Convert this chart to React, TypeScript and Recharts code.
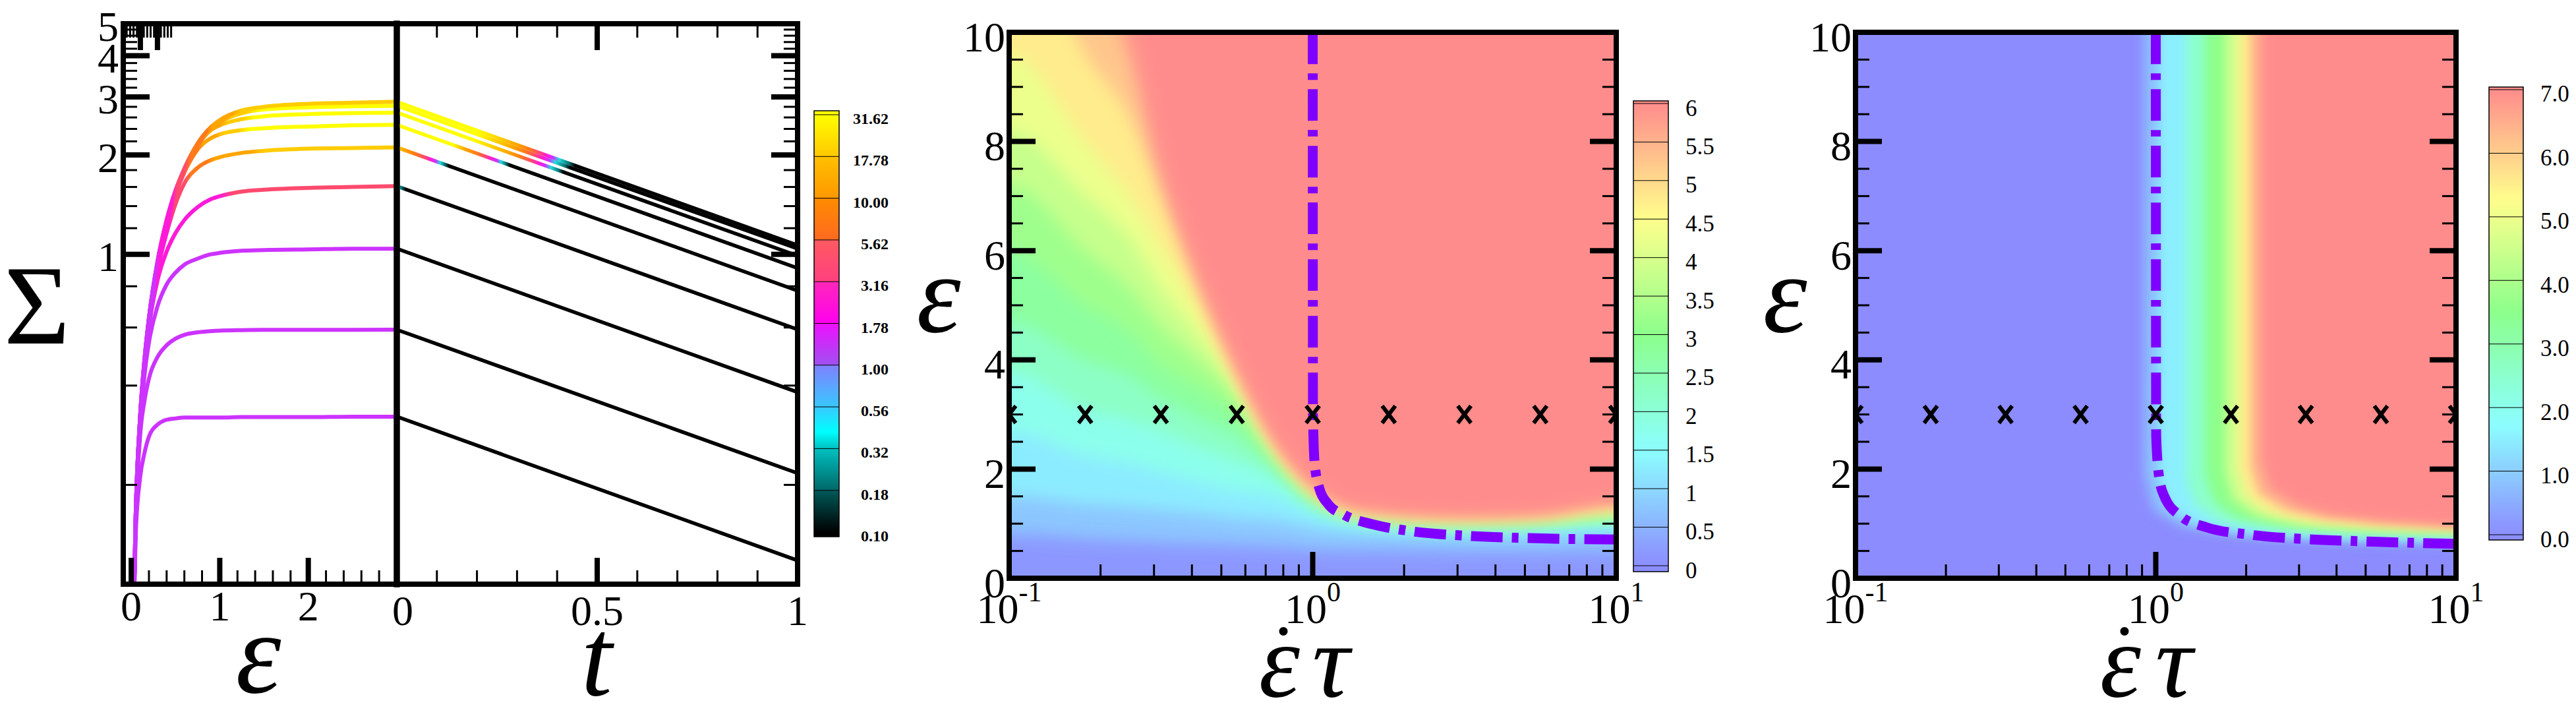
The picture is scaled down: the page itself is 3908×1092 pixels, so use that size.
import React from 'react';
import { ComposedChart, Line, Area, Scatter, XAxis, YAxis, CartesianGrid } from 'recharts';

const SERIF = "'Liberation Serif', 'DejaVu Serif', serif";

// ---------- left panel: loading at fixed rate, then relaxation ----------
const STRAIN = [0.02, 0.05, 0.1, 0.15, 0.2, 0.3, 0.4, 0.5, 0.6, 0.75, 0.9, 1.0, 1.25, 1.5, 2.0, 2.5, 3.0];
const RATE_KEYS = ['r01', 'r018', 'r032', 'r056', 'r1', 'r178', 'r316', 'r562', 'r10'];
const LOAD_R01 = [0.062, 0.14, 0.21, 0.25, 0.28, 0.305, 0.315, 0.318, 0.32, 0.32, 0.32, 0.32, 0.321, 0.321, 0.321, 0.322, 0.322];
const LOAD_R018 = [0.063, 0.15, 0.28, 0.36, 0.42, 0.49, 0.53, 0.555, 0.57, 0.58, 0.585, 0.587, 0.589, 0.59, 0.59, 0.59, 0.591];
const LOAD_R032 = [0.064, 0.155, 0.3, 0.43, 0.54, 0.7, 0.81, 0.88, 0.93, 0.97, 1.0, 1.01, 1.025, 1.03, 1.035, 1.04, 1.04];
const LOAD_R056 = [0.064, 0.16, 0.31, 0.46, 0.6, 0.84, 1.02, 1.16, 1.27, 1.39, 1.47, 1.5, 1.55, 1.57, 1.59, 1.6, 1.61];
const LOAD_R1 = [0.064, 0.16, 0.32, 0.47, 0.62, 0.9, 1.16, 1.42, 1.64, 1.83, 1.93, 1.97, 2.03, 2.06, 2.09, 2.1, 2.11];
const LOAD_R178 = [0.064, 0.16, 0.32, 0.48, 0.64, 0.95, 1.24, 1.52, 1.77, 2.08, 2.25, 2.31, 2.38, 2.41, 2.44, 2.46, 2.47];
const LOAD_R316 = [0.064, 0.16, 0.32, 0.48, 0.64, 0.96, 1.26, 1.55, 1.8, 2.14, 2.38, 2.46, 2.57, 2.62, 2.66, 2.68, 2.69];
const LOAD_R562 = [0.064, 0.16, 0.32, 0.48, 0.64, 0.96, 1.27, 1.56, 1.81, 2.16, 2.42, 2.52, 2.68, 2.75, 2.79, 2.81, 2.82];
const LOAD_R10 = [0.064, 0.16, 0.32, 0.48, 0.64, 0.96, 1.27, 1.56, 1.82, 2.17, 2.43, 2.55, 2.73, 2.8, 2.86, 2.88, 2.9];
const LOADS = [LOAD_R01, LOAD_R018, LOAD_R032, LOAD_R056, LOAD_R1, LOAD_R178, LOAD_R316, LOAD_R562, LOAD_R10];

const RELAX_T = [0, 1];
const RELAX_END = [0.118, 0.217, 0.382, 0.592, 0.776, 0.908, 0.99, 1.04, 1.066];

// rates probed in the maps (the x marks at strain 3)
const RATES = [0.1, 0.178, 0.316, 0.562, 1, 1.78, 3.16, 5.62, 10];
const MARK_STRAIN = 3;

// ---------- ticks and labels ----------
const STRAIN_TICKS = [0, 0.2, 0.4, 0.6, 0.8, 1, 1.2, 1.4, 1.6, 1.8, 2, 2.2, 2.4, 2.6, 2.8];
const STRAIN_MAJOR = [0, 1, 2];
const TIME_TICKS = [0, 0.1, 0.2, 0.3, 0.4, 0.5, 0.6, 0.7, 0.8, 0.9, 1];
const TIME_MAJOR = [0, 0.5, 1];
const SIGMA_TICKS = [0.2, 0.4, 0.6, 0.8, 1, 1.2, 1.4, 1.6, 1.8, 2, 2.2, 2.4, 2.6, 2.8, 3, 3.2, 3.4, 3.6, 3.8, 4, 4.2, 4.4, 4.6, 4.8, 5];
const SIGMA_MAJOR = [1, 2, 3, 4, 5];
const RATE_TICKS = [0.1, 0.2, 0.3, 0.4, 0.5, 0.6, 0.7, 0.8, 0.9, 1, 2, 3, 4, 5, 6, 7, 8, 9, 10];
const RATE_MAJOR = [0.1, 1, 10];
const RATE_EXP = ['-1', '0', '1'];
const EPS_TICKS = [0, 0.5, 1, 1.5, 2, 2.5, 3, 3.5, 4, 4.5, 5, 5.5, 6, 6.5, 7, 7.5, 8, 8.5, 9, 9.5, 10];
const EPS_MAJOR = [0, 2, 4, 6, 8, 10];
const CB1_LABELS = ['31.62', '17.78', '10.00', '5.62', '3.16', '1.78', '1.00', '0.56', '0.32', '0.18', '0.10'];
const CB2_LABELS = ['6', '5.5', '5', '4.5', '4', '3.5', '3', '2.5', '2', '1.5', '1', '0.5', '0'];
const CB3_LABELS = ['7.0', '6.0', '5.0', '4.0', '3.0', '2.0', '1.0', '0.0'];

// ---------- middle map: contour levels, strain where each level is crossed ----------
const P2_RATE = [0.05, 0.1, 0.178, 0.251, 0.316, 0.398, 0.562, 0.75, 1, 1.33, 1.78, 3.16, 5.62, 10, 20];
const P2_L05 = [0.8, 0.8, 0.72, 0.68, 0.65, 0.63, 0.6, 0.57, 0.52, 0.5, 0.5, 0.48, 0.48, 0.5, 0.5];
const P2_L10 = [1.5, 1.5, 1.35, 1.3, 1.25, 1.2, 1.1, 1.05, 0.92, 0.85, 0.82, 0.79, 0.8, 0.85, 0.85];
const P2_L15 = [2.7, 2.7, 2.25, 2.1, 1.95, 1.8, 1.6, 1.5, 1.2, 1.02, 0.95, 0.9, 0.93, 1.0, 1.0];
const P2_L20 = [3.8, 3.8, 3.1, 2.9, 2.7, 2.45, 2.15, 1.85, 1.35, 1.11, 1.02, 0.97, 1.0, 1.07, 1.07];
const P2_L25 = [4.7, 4.7, 4.0, 3.7, 3.3, 3.0, 2.6, 2.05, 1.45, 1.17, 1.07, 1.01, 1.04, 1.13, 1.13];
const P2_L30 = [6.0, 6.0, 5.0, 4.5, 3.9, 3.55, 3.0, 2.2, 1.52, 1.21, 1.11, 1.05, 1.08, 1.18, 1.18];
const P2_L35 = [7.2, 7.2, 6.0, 5.3, 4.6, 4.1, 3.3, 2.3, 1.57, 1.24, 1.14, 1.08, 1.11, 1.22, 1.22];
const P2_L40 = [8.2, 8.2, 7.0, 6.2, 5.3, 4.6, 3.5, 2.38, 1.61, 1.27, 1.17, 1.1, 1.14, 1.26, 1.26];
const P2_L45 = [9.6, 9.6, 8.0, 7.0, 6.1, 5.15, 3.65, 2.45, 1.65, 1.29, 1.19, 1.12, 1.16, 1.3, 1.3];
const P2_L50 = [12.5, 12.5, 9.6, 8.4, 7.0, 5.6, 3.78, 2.5, 1.68, 1.31, 1.21, 1.14, 1.18, 1.34, 1.34];
const P2_L55 = [13, 13, 11.5, 9.4, 7.4, 5.85, 3.88, 2.55, 1.71, 1.33, 1.23, 1.16, 1.2, 1.38, 1.38];
const P2_L60 = [13, 13, 13, 10.3, 7.8, 6.05, 4.0, 2.6, 1.75, 1.35, 1.25, 1.18, 1.22, 1.42, 1.42];
const P2_LEVELS = [0.5, 1, 1.5, 2, 2.5, 3, 3.5, 4, 4.5, 5, 5.5, 6];
const P2_CONTOURS = [P2_L05, P2_L10, P2_L15, P2_L20, P2_L25, P2_L30, P2_L35, P2_L40, P2_L45, P2_L50, P2_L55, P2_L60];
const RIDGE2_RATE = [1.0, 1.002, 1.015, 1.054, 1.12, 1.27, 1.57, 2.09, 3.16, 4.8, 10];
const RIDGE2_STRAIN = [10, 3.0, 2.1, 1.63, 1.37, 1.16, 0.99, 0.865, 0.78, 0.74, 0.71];

// ---------- right map: contour polylines [rate, strain] ----------
const P3_L05 = [[0.05, 13], [0.91, 13], [0.91, 1.9], [0.98, 1.25], [1.2, 0.95], [2, 0.76], [4, 0.68], [10, 0.62], [20, 0.62]];
const P3_L1 = [[0.05, 13], [1.02, 13], [1.02, 1.8], [1.1, 1.3], [1.35, 1.0], [2.1, 0.82], [4.2, 0.74], [10, 0.7], [20, 0.7]];
const P3_L2 = [[0.05, 13], [1.26, 13], [1.26, 1.85], [1.34, 1.35], [1.6, 1.05], [2.4, 0.88], [4.5, 0.8], [10, 0.76], [20, 0.76]];
const P3_L3 = [[0.05, 13], [1.46, 13], [1.46, 1.9], [1.56, 1.4], [1.85, 1.1], [2.7, 0.93], [4.8, 0.85], [10, 0.81], [20, 0.81]];
const P3_L4 = [[0.05, 13], [1.7, 13], [1.7, 1.95], [1.8, 1.45], [2.15, 1.15], [3.0, 0.98], [5, 0.9], [10, 0.85], [20, 0.85]];
const P3_L5 = [[0.05, 13], [1.88, 13], [1.88, 2.0], [2.0, 1.5], [2.4, 1.2], [3.3, 1.03], [5.3, 0.95], [10, 0.89], [20, 0.89]];
const P3_L6 = [[0.05, 13], [2.07, 13], [2.07, 2.05], [2.2, 1.55], [2.7, 1.25], [3.6, 1.1], [5.5, 1.0], [10, 0.93], [20, 0.93]];
const P3_L7 = [[0.05, 13], [2.26, 13], [2.26, 2.15], [2.42, 1.65], [2.97, 1.35], [3.8, 1.18], [5.7, 1.06], [10, 0.97], [20, 0.97]];
const P3_BAND = [0.75, 1.5, 2.5, 3.5, 4.5, 5.5, 6.5, 7];
const P3_CONTOURS = [P3_L05, P3_L1, P3_L2, P3_L3, P3_L4, P3_L5, P3_L6, P3_L7];
const RIDGE3_RATE = [1.0, 1.003, 1.028, 1.072, 1.21, 1.48, 2.04, 3.09, 4.68, 10];
const RIDGE3_STRAIN = [10, 2.6, 1.82, 1.48, 1.14, 0.93, 0.8, 0.72, 0.68, 0.63];

// ---------- colours ----------
const PURPLE = '#cc33ff', MAGENTA = '#ff1ad9', PINK = '#ff4a6e', ORANGE = '#ff7a1a', AMBER = '#ffa500';
const GOLD = '#ffcc00', YELLOW = '#ffff00', CYAN = '#22dddd', TEAL = '#0a7070', BLACK = '#000000';

const LOAD_COLORS: Record<string, [number, string][]> = {
  r01: [[0, PURPLE]],
  r018: [[0, PURPLE]],
  r032: [[0, PURPLE]],
  r056: [[0.22, PURPLE], [0.3, MAGENTA], [1.0, MAGENTA], [1.15, PINK]],
  r1: [[0.22, PURPLE], [0.3, MAGENTA], [0.42, MAGENTA], [0.5, PINK], [0.6, PINK], [0.68, ORANGE], [0.85, ORANGE], [0.95, AMBER], [1.35, AMBER], [1.5, GOLD]],
  r178: [[0.24, PURPLE], [0.32, MAGENTA], [0.44, MAGENTA], [0.5, PINK], [0.58, PINK], [0.64, ORANGE], [0.75, ORANGE], [0.82, AMBER], [0.95, AMBER], [1.05, GOLD], [1.2, GOLD], [1.35, YELLOW]],
  r316: [[0.25, PURPLE], [0.33, MAGENTA], [0.45, MAGENTA], [0.51, PINK], [0.6, PINK], [0.66, ORANGE], [0.8, ORANGE], [0.87, AMBER], [1.0, AMBER], [1.1, GOLD], [1.25, GOLD], [1.4, YELLOW]],
  r562: [[0.26, PURPLE], [0.33, MAGENTA], [0.46, MAGENTA], [0.52, PINK], [0.6, PINK], [0.67, ORANGE], [0.82, ORANGE], [0.9, AMBER], [1.05, AMBER], [1.15, GOLD], [1.3, GOLD], [1.45, YELLOW]],
  r10: [[0.26, PURPLE], [0.33, MAGENTA], [0.46, MAGENTA], [0.52, PINK], [0.6, PINK], [0.68, ORANGE], [0.85, ORANGE], [0.92, AMBER], [1.15, AMBER], [1.25, GOLD]],
};

const RELAX_COLORS: Record<string, [number, string][]> = {
  r01: [[0, BLACK]],
  r018: [[0, BLACK]],
  r032: [[0, BLACK]],
  r056: [[0, CYAN], [0.012, TEAL], [0.022, BLACK]],
  r1: [[0, GOLD], [0.02, AMBER], [0.045, ORANGE], [0.07, PINK], [0.085, MAGENTA], [0.097, PURPLE], [0.108, CYAN], [0.12, TEAL], [0.13, BLACK]],
  r178: [[0, YELLOW], [0.14, YELLOW], [0.17, AMBER], [0.2, ORANGE], [0.22, PINK], [0.235, MAGENTA], [0.25, PURPLE], [0.26, CYAN], [0.272, TEAL], [0.282, BLACK]],
  r316: [[0, YELLOW], [0.19, YELLOW], [0.24, GOLD], [0.28, AMBER], [0.31, ORANGE], [0.335, PINK], [0.355, MAGENTA], [0.37, PURPLE], [0.385, CYAN], [0.405, TEAL], [0.415, BLACK]],
  r562: [[0, YELLOW], [0.2, YELLOW], [0.25, GOLD], [0.29, AMBER], [0.32, ORANGE], [0.345, PINK], [0.365, MAGENTA], [0.38, PURPLE], [0.395, CYAN], [0.42, TEAL], [0.432, BLACK]],
  r10: [[0, YELLOW], [0.2, YELLOW], [0.26, GOLD], [0.3, AMBER], [0.33, ORANGE], [0.355, PINK], [0.375, MAGENTA], [0.39, PURPLE], [0.405, CYAN], [0.43, TEAL], [0.445, BLACK]],
};

// colour scale of the rate colour bar (log10 value -> colour)
const CB1_STOPS: [number, string][] = [
  [-1.0, '#000000'], [-0.75, '#005a5a'], [-0.749, '#006868'], [-0.5, '#00c0c0'], [-0.4, '#00ffff'],
  [-0.25, '#38c8ff'], [0, '#8080ff'], [0.001, '#a050f0'], [0.25, '#ee10ff'], [0.251, '#ff00f0'],
  [0.5, '#ff28b8'], [0.501, '#ff4080'], [0.75, '#ff5a60'], [0.751, '#ff6a20'], [1.0, '#ff8c00'],
  [1.001, '#ff9800'], [1.25, '#ffc000'], [1.251, '#ffc800'], [1.5, '#ffff00'],
];

const PASTEL = [[140, 140, 255], [140, 255, 255], [140, 255, 140], [255, 255, 140], [255, 140, 140]];
function pastel(f: number) {
  const c = Math.max(0, Math.min(1, f)) * 4;
  const i = Math.min(3, Math.floor(c));
  const u = c - i;
  const a = PASTEL[i];
  const b = PASTEL[i + 1];
  const m = (k: number) => Math.round(a[k] + (b[k] - a[k]) * u);
  return `rgb(${m(0)},${m(1)},${m(2)})`;
}
const clamp01 = (v: number) => Math.max(0, Math.min(1, v));

// ---------- tables for recharts ----------
const LOAD_ROWS = STRAIN.map((e, i) => {
  const row: any = { e };
  RATE_KEYS.forEach((k, j) => { row[k] = LOADS[j][i]; });
  return row;
});
const RELAX_ROWS = RELAX_T.map((t, i) => {
  const row: any = { t };
  RATE_KEYS.forEach((k, j) => { row[k] = i === 0 ? LOADS[j][LOADS[j].length - 1] : RELAX_END[j]; });
  return row;
});
const P2_ROWS = P2_RATE.map((x, i) => {
  const row: any = { x };
  P2_CONTOURS.forEach((c, j) => { row[`k${j}`] = c[i]; });
  return row;
});
const MARKS = RATES.map((x) => ({ x, e: MARK_STRAIN }));
const RIDGE2 = RIDGE2_RATE.map((x, i) => ({ x, e: RIDGE2_STRAIN[i] }));
const RIDGE3 = RIDGE3_RATE.map((x, i) => ({ x, e: RIDGE3_STRAIN[i] }));
const P3_DATA = P3_CONTOURS.map((c) => c.map(([x, e]) => ({ x, e })));

const FRAME = { stroke: '#000', strokeWidth: 8, strokeLinecap: 'square' as const };
const DIVIDER = { stroke: '#000', strokeWidth: 9, strokeLinecap: 'square' as const };

type Side = 'bottom' | 'top' | 'left' | 'right';
function ticker(side: Side, major: number[], label?: (v: number, x: number, y: number) => React.ReactNode) {
  return (props: any) => {
    const { x, y, payload } = props;
    const v = Number(payload.value);
    const big = major.some((m) => Math.abs(m - v) < 1e-6);
    const len = big ? 40 : 21;
    let x2 = x;
    let y2 = y;
    if (side === 'bottom') y2 = y - len;
    if (side === 'top') y2 = y + len;
    if (side === 'left') x2 = x + len;
    if (side === 'right') x2 = x - len;
    return (
      <g>
        <line x1={x} y1={y} x2={x2} y2={y2} stroke="#000" strokeWidth={big ? 8 : 3} />
        {big && label ? label(v, x, y) : null}
      </g>
    );
  };
}

const numLabel = (txt: string, x: number, y: number, anchor: 'middle' | 'end', central = false) => (
  <text x={x} y={y} textAnchor={anchor} dominantBaseline={central ? 'central' : 'auto'} fontFamily={SERIF} fontSize={64} fill="#000">
    {txt}
  </text>
);
const rateLabel = (v: number, x: number, y: number) => {
  const i = RATE_MAJOR.findIndex((m) => Math.abs(m - v) < 1e-6);
  return (
    <text x={x} y={y + 68} textAnchor="middle" fontFamily={SERIF} fontSize={64} fill="#000">
      10<tspan dy={-33} fontSize={42}>{RATE_EXP[i]}</tspan>
    </text>
  );
};

const XMark = (p: any) => (
  <g>
    <line x1={p.cx - 10} y1={p.cy - 13} x2={p.cx + 10} y2={p.cy + 13} stroke="#000" strokeWidth={6} />
    <line x1={p.cx + 10} y1={p.cy - 13} x2={p.cx - 10} y2={p.cy + 13} stroke="#000" strokeWidth={6} />
  </g>
);

function gradient(id: string, stops: [number, string][], lo: number, hi: number) {
  return (
    <linearGradient key={id} id={id} x1="0" y1="0" x2="1" y2="0">
      {stops.map(([v, c], i) => (
        <stop key={i} offset={clamp01((v - lo) / (hi - lo))} stopColor={c} />
      ))}
    </linearGradient>
  );
}

// axes get a 1px box so that recharts draws them; margins are 1px smaller to keep the plot box
const AX = { tickSize: 0, tickMargin: 0, tickLine: false, interval: 0 as const, allowDataOverflow: true };

function LoadingChart() {
  const lo = STRAIN[0];
  const hi = STRAIN[STRAIN.length - 1];
  return (
    <ComposedChart width={610} height={1092} data={LOAD_ROWS} margin={{ top: 35, right: 7, bottom: 205, left: 186 }}>
      <defs>{RATE_KEYS.filter((k) => LOAD_COLORS[k].length > 1).map((k) => gradient(`load-${k}`, LOAD_COLORS[k], lo, hi))}</defs>
      {RATE_KEYS.map((k) => (
        <Line
          key={k}
          xAxisId="b"
          yAxisId="l"
          dataKey={k}
          type="monotone"
          stroke={LOAD_COLORS[k].length > 1 ? `url(#load-${k})` : LOAD_COLORS[k][0][1]}
          strokeWidth={6}
          dot={false}
          activeDot={false}
          isAnimationActive={false}
        />
      ))}
      <XAxis xAxisId="b" dataKey="e" type="number" domain={[-0.09, 3]} ticks={STRAIN_TICKS} height={1} {...AX} axisLine={FRAME}
        tick={ticker('bottom', STRAIN_MAJOR, (v, x, y) => numLabel(String(v), x, y + 55, 'middle'))} />
      <XAxis xAxisId="t" orientation="top" type="number" domain={[-0.09, 3]} ticks={STRAIN_TICKS} height={1} {...AX} axisLine={FRAME}
        tick={ticker('top', STRAIN_MAJOR)} />
      <YAxis yAxisId="l" type="number" scale="log" domain={[0.1, 5]} ticks={SIGMA_TICKS} width={1} {...AX} axisLine={FRAME}
        tick={ticker('left', SIGMA_MAJOR, (v, x, y) => numLabel(String(v), x - 7, y + 4, 'end', true))} />
      <YAxis yAxisId="r" orientation="right" type="number" scale="log" domain={[0.1, 5]} width={1} {...AX} tick={false} axisLine={DIVIDER} />
    </ComposedChart>
  );
}

function RelaxChart() {
  return (
    <ComposedChart width={640} height={1092} data={RELAX_ROWS} margin={{ top: 35, right: 23, bottom: 205, left: 7 }}>
      <defs>{RATE_KEYS.filter((k) => RELAX_COLORS[k].length > 1).map((k) => gradient(`relax-${k}`, RELAX_COLORS[k], 0, 1))}</defs>
      {RATE_KEYS.map((k) => (
        <Line
          key={k}
          xAxisId="b"
          yAxisId="l"
          dataKey={k}
          type="linear"
          stroke={RELAX_COLORS[k].length > 1 ? `url(#relax-${k})` : RELAX_COLORS[k][0][1]}
          strokeWidth={5.5}
          dot={false}
          activeDot={false}
          isAnimationActive={false}
        />
      ))}
      <XAxis xAxisId="b" dataKey="t" type="number" domain={[0, 1]} ticks={TIME_TICKS} height={1} {...AX} axisLine={FRAME}
        tick={ticker('bottom', TIME_MAJOR, (v, x, y) => numLabel(String(v), x + (v === 0 ? 9 : 0), y + 62, 'middle'))} />
      <XAxis xAxisId="t" orientation="top" type="number" domain={[0, 1]} ticks={TIME_TICKS} height={1} {...AX} axisLine={FRAME}
        tick={ticker('top', TIME_MAJOR)} />
      <YAxis yAxisId="l" type="number" scale="log" domain={[0.1, 5]} width={1} {...AX} tick={false} axisLine={DIVIDER} />
      <YAxis yAxisId="r" orientation="right" type="number" scale="log" domain={[0.1, 5]} ticks={SIGMA_TICKS} width={1} {...AX} axisLine={FRAME}
        tick={ticker('right', SIGMA_MAJOR)} />
    </ComposedChart>
  );
}

function mapAxes() {
  return [
    <XAxis key="xb" xAxisId="b" dataKey="x" type="number" scale="log" domain={[0.1, 10]} ticks={RATE_TICKS} height={1} {...AX} axisLine={FRAME}
      tick={ticker('bottom', RATE_MAJOR, rateLabel)} />,
    <XAxis key="xt" xAxisId="t" orientation="top" type="number" scale="log" domain={[0.1, 10]} ticks={RATE_TICKS} height={1} {...AX} axisLine={FRAME}
      tick={ticker('top', RATE_MAJOR)} />,
    <YAxis key="yl" yAxisId="l" type="number" domain={[0, 10]} ticks={EPS_TICKS} width={1} {...AX} axisLine={FRAME}
      tick={ticker('left', EPS_MAJOR, (v, x, y) => numLabel(String(v), x - 6, y + 7, 'end', true))} />,
    <YAxis key="yr" yAxisId="r" orientation="right" type="number" domain={[0, 10]} ticks={EPS_TICKS} width={1} {...AX} axisLine={FRAME}
      tick={ticker('right', EPS_MAJOR)} />,
  ];
}

function MiddleMap() {
  return (
    <ComposedChart width={1140} height={1092} data={P2_ROWS} margin={{ top: 48, right: 67, bottom: 214, left: 150 }}>
      <defs>
        <filter id="blur-p2" x="-10%" y="-10%" width="120%" height="120%">
          <feGaussianBlur stdDeviation={12} />
        </filter>
      </defs>
      <CartesianGrid xAxisId="b" yAxisId="l" fill={pastel(0.15 / 6)} fillOpacity={1} horizontal={false} vertical={false} stroke="none" />
      {P2_LEVELS.map((lv, i) => (
        <Area
          key={i}
          xAxisId="b"
          yAxisId="l"
          dataKey={`k${i}`}
          type="monotone"
          baseValue={13}
          stroke="none"
          fill={pastel(Math.min(lv + 0.25, 6) / 6)}
          fillOpacity={1}
          filter="url(#blur-p2)"
          dot={false}
          activeDot={false}
          isAnimationActive={false}
        />
      ))}
      <Line data={RIDGE2} xAxisId="b" yAxisId="l" dataKey="e" type="monotone" stroke="#8000ff" strokeWidth={15}
        strokeDasharray="48 14 10 14" dot={false} activeDot={false} isAnimationActive={false} />
      <Scatter data={MARKS} xAxisId="b" yAxisId="l" dataKey="e" shape={XMark} isAnimationActive={false} />
      {mapAxes()}
    </ComposedChart>
  );
}

function RightMap() {
  return (
    <ComposedChart width={1140} height={1092} margin={{ top: 48, right: 73, bottom: 214, left: 154 }}>
      <defs>
        <filter id="blur-p3" x="-10%" y="-10%" width="120%" height="120%">
          <feGaussianBlur stdDeviation={8} />
        </filter>
      </defs>
      <CartesianGrid xAxisId="b" yAxisId="l" fill={pastel(0)} fillOpacity={1} horizontal={false} vertical={false} stroke="none" />
      {P3_DATA.map((d, i) => (
        <Area
          key={i}
          data={d}
          xAxisId="b"
          yAxisId="l"
          dataKey="e"
          type="linear"
          baseValue={13}
          stroke="none"
          fill={pastel(P3_BAND[i] / 7)}
          fillOpacity={1}
          filter="url(#blur-p3)"
          dot={false}
          activeDot={false}
          isAnimationActive={false}
        />
      ))}
      <Line data={RIDGE3} xAxisId="b" yAxisId="l" dataKey="e" type="monotone" stroke="#8000ff" strokeWidth={15}
        strokeDasharray="48 14 10 14" dot={false} activeDot={false} isAnimationActive={false} />
      <Scatter data={MARKS} xAxisId="b" yAxisId="l" dataKey="e" shape={XMark} isAnimationActive={false} />
      {mapAxes()}
    </ComposedChart>
  );
}

// colour bars and axis titles
function Overlay() {
  const cb1Y = (lv: number) => 807 - (lv + 1) * 253.2;
  const cb1Top = 168;
  const cb1Bot = 814;
  const cb2Y = (v: number) => 858 - v * 116.83;
  const cb2Top = 153;
  const cb2Bot = 867;
  const cb3Y = (v: number) => 811 - v * 96.43;
  const cb3Top = 132;
  const cb3Bot = 819;
  const vStops = (yOf: (v: number) => number, top: number, bot: number, max: number) => {
    const out: React.ReactNode[] = [];
    for (let i = 0; i <= 24; i++) {
      const v = -0.1 + (i / 24) * (max + 0.2);
      out.push(<stop key={i} offset={clamp01((yOf(v) - top) / (bot - top))} stopColor={pastel(v / max)} />);
    }
    return out.reverse();
  };
  const italic = { fontFamily: SERIF, fontStyle: 'italic' as const, fill: '#000' };
  return (
    <svg width={3908} height={1092} style={{ position: 'absolute', left: 0, top: 0, pointerEvents: 'none' }}>
      <defs>
        <linearGradient id="cb1" x1="0" y1="0" x2="0" y2="1">
          {CB1_STOPS.slice().reverse().map(([lv, c], i) => (
            <stop key={i} offset={clamp01((cb1Y(lv) - cb1Top) / (cb1Bot - cb1Top))} stopColor={c} />
          ))}
        </linearGradient>
        <linearGradient id="cb2" x1="0" y1="0" x2="0" y2="1">{vStops(cb2Y, cb2Top, cb2Bot, 6)}</linearGradient>
        <linearGradient id="cb3" x1="0" y1="0" x2="0" y2="1">{vStops(cb3Y, cb3Top, cb3Bot, 7)}</linearGradient>
      </defs>

      <rect x={1235} y={cb1Top} width={38} height={cb1Bot - cb1Top} fill="url(#cb1)" stroke="#000" strokeWidth={1.5} />
      {CB1_LABELS.map((t, i) => {
        const y = cb1Y(1.5 - i * 0.25);
        return (
          <g key={t}>
            <line x1={1235} x2={1273} y1={y} y2={y} stroke="#000" strokeWidth={1} />
            <text x={1348} y={y + 6} textAnchor="end" dominantBaseline="central" fontFamily={SERIF} fontWeight="bold" fontSize={24} fill="#000">{t}</text>
          </g>
        );
      })}

      <rect x={2478} y={cb2Top} width={53} height={cb2Bot - cb2Top} fill="url(#cb2)" stroke="#000" strokeWidth={1.5} />
      {CB2_LABELS.map((t, i) => {
        const y = cb2Y(6 - i * 0.5);
        return (
          <g key={t}>
            <line x1={2478} x2={2531} y1={y} y2={y} stroke="#000" strokeWidth={1} />
            <text x={2557} y={y + 7} dominantBaseline="central" fontFamily={SERIF} fontSize={35} fill="#000">{t}</text>
          </g>
        );
      })}

      <rect x={3776} y={cb3Top} width={52} height={cb3Bot - cb3Top} fill="url(#cb3)" stroke="#000" strokeWidth={1.5} />
      {CB3_LABELS.map((t, i) => {
        const y = cb3Y(7 - i);
        return (
          <g key={t}>
            <line x1={3776} x2={3828} y1={y} y2={y} stroke="#000" strokeWidth={1} />
            <text x={3854} y={y + 7} dominantBaseline="central" fontFamily={SERIF} fontSize={35} fill="#000">{t}</text>
          </g>
        );
      })}

      <text x={56} y={521} textAnchor="middle" fontFamily={SERIF} fontSize={172} fill="#000">Σ</text>
      <text x={392} y={1050} textAnchor="middle" fontSize={175} {...italic}>ε</text>
      <text x={905} y={1054} textAnchor="middle" fontSize={170} {...italic}>t</text>
      <text x={1424} y={503} textAnchor="middle" fontSize={170} {...italic}>ε</text>
      <text x={2708} y={503} textAnchor="middle" fontSize={170} {...italic}>ε</text>
      <text x={1941} y={1056} textAnchor="middle" fontSize={158} {...italic}>ε</text>
      <text x={1947} y={962} textAnchor="middle" fontSize={110} fontFamily={SERIF} fill="#000">.</text>
      <text x={2019} y={1056} textAnchor="middle" fontSize={158} {...italic}>τ</text>
      <text x={3217} y={1056} textAnchor="middle" fontSize={158} {...italic}>ε</text>
      <text x={3223} y={962} textAnchor="middle" fontSize={110} fontFamily={SERIF} fill="#000">.</text>
      <text x={3298} y={1056} textAnchor="middle" fontSize={158} {...italic}>τ</text>
    </svg>
  );
}

export default function App() {
  return (
    <div style={{ position: 'absolute', left: 0, top: 0, width: 3908, height: 1092, background: '#fff', overflow: 'hidden' }}>
      <div style={{ position: 'absolute', left: 0, top: 0 }}><LoadingChart /></div>
      <div style={{ position: 'absolute', left: 594, top: 0 }}><RelaxChart /></div>
      <div style={{ position: 'absolute', left: 1380, top: 0 }}><MiddleMap /></div>
      <div style={{ position: 'absolute', left: 2660, top: 0 }}><RightMap /></div>
      <Overlay />
    </div>
  );
}
